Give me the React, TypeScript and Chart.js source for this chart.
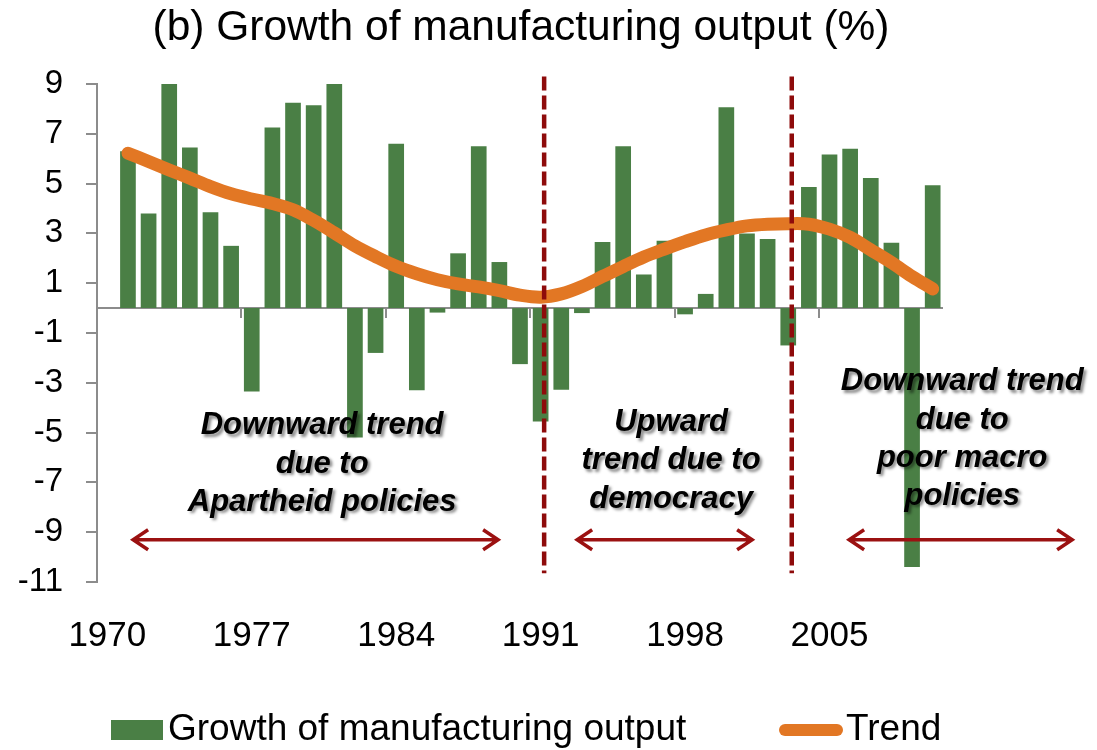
import React, { useEffect, useRef } from 'react';
import { Chart, registerables } from 'chart.js';

Chart.register(...registerables);

const years: string[] = [
  '1970', '1971', '1972', '1973', '1974', '1975', '1976', '1977', '1978', '1979',
  '1980', '1981', '1982', '1983', '1984', '1985', '1986', '1987', '1988', '1989',
  '1990', '1991', '1992', '1993', '1994', '1995', '1996', '1997', '1998', '1999',
  '2000', '2001', '2002', '2003', '2004', '2005', '2006', '2007', '2008', '2009',
  '2010',
];

const growth: (number | null)[] = [
  null, 6.3, 3.8, 9.0, 6.45, 3.85, 2.5, -3.35, 7.25, 8.25,
  8.15, 9.0, -5.2, -1.8, 6.6, -3.3, -0.18, 2.2, 6.5, 1.85,
  -2.25, -4.55, -3.28, -0.2, 2.65, 6.5, 1.35, 2.7, -0.25, 0.57,
  8.07, 3.0, 2.78, -1.5, 4.86, 6.17, 6.4, 5.22, 2.62, -10.4,
  4.93,
];

const trend: (number | null)[] = [
  null, 6.22, 5.89, 5.55, 5.22, 4.88, 4.59, 4.38, 4.2, 3.95,
  3.52, 3.02, 2.5, 2.07, 1.68, 1.38, 1.14, 0.97, 0.85, 0.7,
  0.52, 0.44, 0.57, 0.87, 1.27, 1.67, 2.05, 2.37, 2.67, 2.94,
  3.14, 3.3, 3.37, 3.39, 3.37, 3.17, 2.84, 2.34, 1.83, 1.27,
  0.77,
];

const yTicksMin = -11;
const yTicksMax = 9;
const yTickStep = 2;
const labelEvery = 7;

const breakYears: number[] = [1991, 2003];

const titleText = '(b) Growth of manufacturing output (%)';
const seriesNames = ['Growth of manufacturing output', 'Trend'];

const annotationLines: string[][] = [
  ['Downward trend', 'due to', 'Apartheid policies'],
  ['Upward', 'trend due to', 'democracy'],
  ['Downward trend', 'due to', 'poor macro', 'policies'],
];

// layout of annotations (in year units / value units)
const annotationLayout = [
  { cx: 1980.41, top: -4.73, arrow: [1971.25, 1988.94] },
  { cx: 1997.32, top: -4.6, arrow: [1992.77, 2001.25] },
  { cx: 2011.43, top: -2.96, arrow: [2005.95, 2016.76] },
];

const GREEN = '#4a7f45';
const ORANGE = '#e27724';
const DARKRED = '#8e0b0b';
const AXIS = '#8c8c8c';
const FONT = '"Liberation Sans", Arial, sans-serif';

const overlayPlugin = {
  id: 'overlay',
  beforeDatasetsDraw(chart: any) {
    const { ctx, chartArea, scales } = chart;
    const x = scales.x;
    const y = scales.y;
    const y0 = y.getPixelForValue(0);
    ctx.save();
    ctx.strokeStyle = AXIS;
    ctx.lineWidth = 2;
    ctx.beginPath();
    ctx.moveTo(chartArea.left, y0);
    ctx.lineTo(chartArea.right, y0);
    for (let k = labelEvery; k < years.length; k += labelEvery) {
      const px = Math.round(x.getPixelForValue(k - 0.5));
      ctx.moveTo(px, y0);
      ctx.lineTo(px, y0 + 10);
    }
    ctx.stroke();
    ctx.restore();
  },
  afterDatasetsDraw(chart: any) {
    const { ctx, scales } = chart;
    const x = scales.x;
    const y = scales.y;
    const xv = (yr: number) => x.getPixelForValue(yr - 1970);
    ctx.save();
    // dashed break lines
    ctx.strokeStyle = DARKRED;
    ctx.lineWidth = 4.5;
    ctx.setLineDash([14, 5]);
    breakYears.forEach((yr) => {
      const px = xv(yr + 0.17);
      ctx.beginPath();
      ctx.moveTo(px, y.getPixelForValue(9.3));
      ctx.lineTo(px, y.getPixelForValue(-10.65));
      ctx.stroke();
    });
    ctx.setLineDash([]);
    // arrows
    ctx.strokeStyle = '#9b1111';
    ctx.lineWidth = 3.5;
    ctx.lineJoin = 'miter';
    const ay = y.getPixelForValue(-9.3);
    annotationLayout.forEach((a) => {
      const x1 = xv(a.arrow[0]);
      const x2 = xv(a.arrow[1]);
      ctx.beginPath();
      ctx.moveTo(x1, ay);
      ctx.lineTo(x2, ay);
      ctx.moveTo(x2 - 15, ay - 10);
      ctx.lineTo(x2, ay);
      ctx.lineTo(x2 - 15, ay + 10);
      ctx.moveTo(x1 + 15, ay - 10);
      ctx.lineTo(x1, ay);
      ctx.lineTo(x1 + 15, ay + 10);
      ctx.stroke();
    });
    // annotation text
    ctx.font = `italic bold 31px ${FONT}`;
    ctx.textAlign = 'center';
    ctx.textBaseline = 'middle';
    ctx.fillStyle = '#000';
    ctx.shadowColor = 'rgba(0,0,0,0.45)';
    ctx.shadowOffsetX = 2.5;
    ctx.shadowOffsetY = 2.5;
    ctx.shadowBlur = 3;
    annotationLayout.forEach((a, i) => {
      const cx = xv(a.cx);
      const ty = y.getPixelForValue(a.top);
      annotationLines[i].forEach((line, j) => {
        ctx.fillText(line, cx, ty + j * 38.2);
      });
    });
    ctx.restore();
  },
  afterDraw(chart: any) {
    const { ctx } = chart;
    ctx.save();
    ctx.fillStyle = '#000';
    ctx.textBaseline = 'middle';
    ctx.textAlign = 'center';
    ctx.font = `42.5px ${FONT}`;
    ctx.fillText(titleText, 521, 28);
    // legend
    ctx.textAlign = 'left';
    ctx.font = `37px ${FONT}`;
    ctx.fillStyle = GREEN;
    ctx.fillRect(111, 720, 52, 20);
    ctx.fillStyle = '#000';
    ctx.fillText(seriesNames[0], 168, 730);
    ctx.strokeStyle = ORANGE;
    ctx.lineWidth = 12;
    ctx.lineCap = 'round';
    ctx.beginPath();
    ctx.moveTo(785, 730);
    ctx.lineTo(837, 730);
    ctx.stroke();
    ctx.fillText(seriesNames[1], 846, 730);
    ctx.restore();
  },
};

export default function App() {
  const canvasRef = useRef<HTMLCanvasElement | null>(null);

  useEffect(() => {
    const canvas = canvasRef.current;
    if (!canvas) return;
    const chart = new Chart(canvas, {
      type: 'bar',
      data: {
        labels: years,
        datasets: [
          {
            type: 'line',
            label: seriesNames[1],
            data: trend,
            borderColor: ORANGE,
            backgroundColor: ORANGE,
            borderWidth: 13,
            borderCapStyle: 'round',
            borderJoinStyle: 'round',
            pointRadius: 0,
            pointHoverRadius: 0,
            tension: 0.35,
            fill: false,
            order: 0,
          } as any,
          {
            type: 'bar',
            label: seriesNames[0],
            data: growth,
            backgroundColor: GREEN,
            borderWidth: 0,
            barPercentage: 0.76,
            categoryPercentage: 1,
            order: 1,
          } as any,
        ],
      },
      options: {
        responsive: false,
        animation: false,
        devicePixelRatio: 1,
        layout: { padding: { top: 84, right: 154, bottom: 0, left: 0 } },
        plugins: {
          legend: { display: false },
          title: { display: false },
          tooltip: { enabled: false },
        },
        scales: {
          x: {
            type: 'category',
            offset: true,
            grid: { display: false },
            border: { display: false },
            ticks: {
              autoSkip: false,
              maxRotation: 0,
              minRotation: 0,
              padding: 25,
              color: '#000',
              font: { family: FONT, size: 35 },
              callback: (_v: any, i: number) => (i % labelEvery === 0 ? years[i] : ''),
            },
            afterFit: (scale: any) => {
              scale.height = 168;
            },
          },
          y: {
            type: 'linear',
            min: yTicksMin,
            max: yTicksMax,
            grid: {
              display: true,
              drawOnChartArea: false,
              drawTicks: true,
              tickLength: 11,
              color: AXIS,
              lineWidth: 2,
            },
            border: { display: true, color: AXIS, width: 2 },
            ticks: {
              stepSize: yTickStep,
              padding: 23,
              color: '#000',
              font: { family: FONT, size: 33 },
            },
            afterFit: (scale: any) => {
              scale.width = 97;
            },
          },
        },
      } as any,
      plugins: [overlayPlugin],
    });
    return () => chart.destroy();
  }, []);

  return (
    <div style={{ position: 'fixed', left: 0, top: 0, width: 1097, height: 750, background: '#fff' }}>
      <canvas ref={canvasRef} width={1097} height={750} style={{ display: 'block' }} />
    </div>
  );
}
